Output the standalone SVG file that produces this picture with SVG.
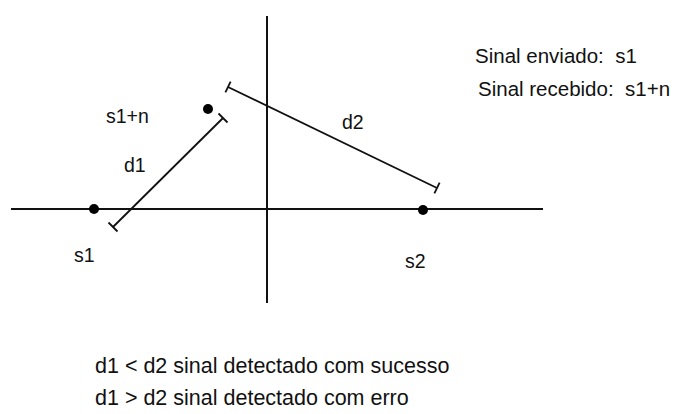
<svg xmlns="http://www.w3.org/2000/svg" width="678" height="414" viewBox="0 0 678 414">
  <style>
    .bg { fill: #ffffff; }
    .axis { stroke: #111; stroke-width: 2; fill: none; }
    .dist { stroke: #111; stroke-width: 1.8; fill: none; }
    .dot { fill: #000; }
    .lbl { font-family: "Liberation Sans", Arial, sans-serif; font-size: 19.5px; fill: #111; }
    .note { font-family: "Liberation Sans", Arial, sans-serif; font-size: 20.5px; fill: #111; }
    .cap { font-family: "Liberation Sans", Arial, sans-serif; font-size: 21.5px; fill: #111; }
  </style>
  <rect class="bg" x="0" y="0" width="678" height="414"/>

  <g id="connectors">
    <line class="axis" x1="11" y1="209" x2="543" y2="209"/>
    <line class="axis" x1="267" y1="16" x2="267" y2="303"/>
    <g id="d1">
      <line class="dist" x1="113" y1="227" x2="223" y2="118"/>
      <line class="dist" x1="108.5" y1="222.5" x2="117.5" y2="231.5"/>
      <line class="dist" x1="218.5" y1="113.5" x2="227.5" y2="122.5"/>
      <text class="lbl" x="124" y="172">d1</text>
    </g>
    <g id="d2">
      <line class="dist" x1="228" y1="87" x2="437" y2="188"/>
      <line class="dist" x1="230.6" y1="81.6" x2="225.4" y2="92.4"/>
      <line class="dist" x1="439.6" y1="182.6" x2="434.4" y2="193.4"/>
      <text class="lbl" x="342" y="129">d2</text>
    </g>
  </g>

  <g id="s1">
    <circle class="dot" cx="94" cy="209" r="5"/>
    <text class="lbl" x="74" y="262">s1</text>
  </g>
  <g id="s1n">
    <circle class="dot" cx="208" cy="109" r="5"/>
    <text class="lbl" x="106" y="123">s1+n</text>
  </g>
  <g id="s2">
    <circle class="dot" cx="423" cy="210" r="5"/>
    <text class="lbl" x="405" y="268">s2</text>
  </g>

  <g id="legend">
    <text class="note" x="475" y="63" xml:space="preserve">Sinal enviado:  s1</text>
    <text class="note" x="478" y="96" xml:space="preserve">Sinal recebido:  s1+n</text>
  </g>

  <g id="captions">
    <text class="cap" x="95" y="373">d1 &lt; d2 sinal detectado com sucesso</text>
    <text class="cap" x="95" y="405">d1 &gt; d2 sinal detectado com erro</text>
  </g>
</svg>
